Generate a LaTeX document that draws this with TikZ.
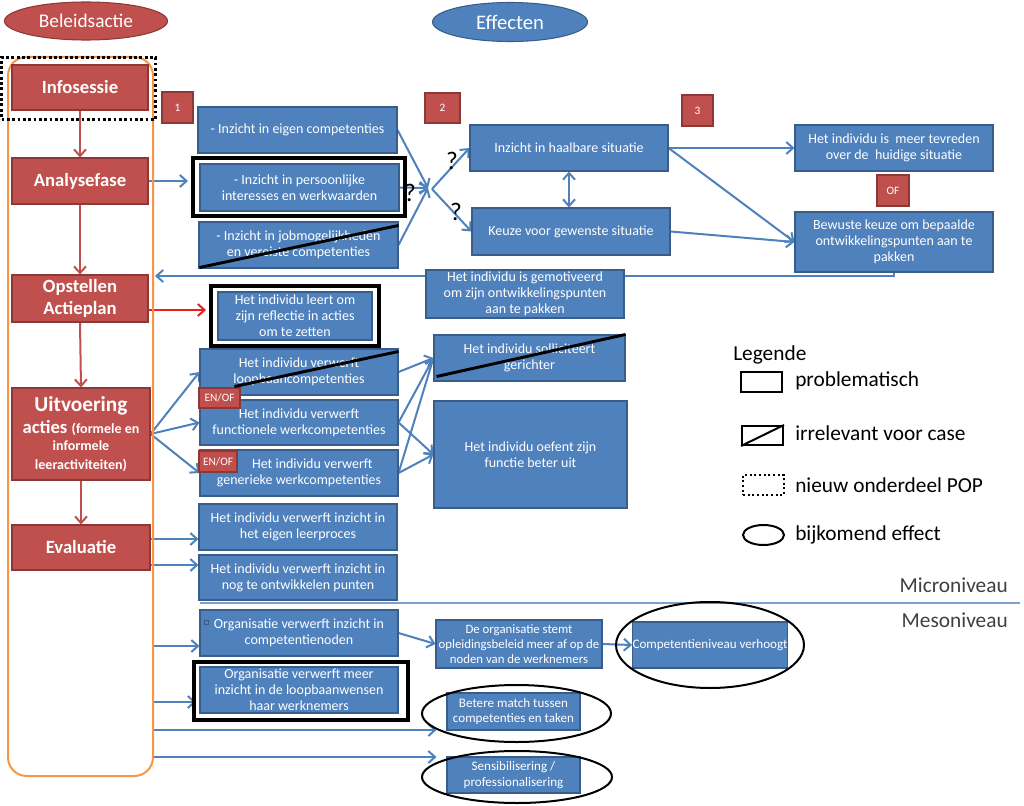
\documentclass[tikz,border=0pt]{standalone}
\usepackage{fontspec}
\setmainfont{Carlito}
\usetikzlibrary{arrows.meta,calc,shapes.geometric,backgrounds}
\definecolor{redF}{HTML}{C0504D}
\definecolor{reddark}{HTML}{8C3836}
\definecolor{blueF}{HTML}{4F81BD}
\definecolor{bluedark}{HTML}{385D8A}
\definecolor{arrowblue}{HTML}{4F81BD}
\definecolor{orangeC}{HTML}{F79646}
\definecolor{brightred}{HTML}{E8201E}
\definecolor{levelline}{HTML}{7F9FCF}
\begin{document}
\begin{tikzpicture}[x=0.75pt,y=-0.75pt,
  sz/.style 2 args={minimum width=#1*0.75pt, minimum height=#2*0.75pt},
  bbox/.style={draw=bluedark, fill=blueF, line width=0.8pt, text=white, font=\fontsize{10.5}{12}\selectfont, align=center, inner sep=0pt},
  rbox/.style={draw=reddark, fill=redF, line width=0.8pt, text=white, font=\bfseries\fontsize{14}{16.5}\selectfont, align=center, inner sep=0pt},
  tag/.style={draw=reddark, fill=redF, line width=0.8pt, text=white, font=\fontsize{8.5}{10}\selectfont, inner sep=0pt},
  frame/.style={draw=black, line width=3pt, inner sep=0pt},
  oval/.style={ellipse, draw=black, line width=1.5pt, inner sep=0pt},
  arr/.style={draw=arrowblue, line width=1.5pt, -{Straight Barb[length=5pt,width=9pt]}},
  rarr/.style={draw=redF, line width=1.5pt, -{Straight Barb[length=5pt,width=9pt]}},
  strike/.style={draw=black, line width=2.2pt},
  qm/.style={font=\fontsize{19}{20}\selectfont, text=black, inner sep=0pt},
  legtext/.style={font=\fontsize{16}{18}\selectfont, anchor=west, inner sep=0pt},
  levtext/.style={font=\fontsize{16}{18}\selectfont, text=black!75, anchor=east, inner sep=0pt}
]
\useasboundingbox (0,0) rectangle (1024,806);

% headers
\node[ellipse, fill=redF, draw=reddark, line width=0.8pt, sz={163}{38}, inner sep=0pt, text=white, font=\fontsize{14.5}{16}\selectfont] (bel) at (86,21) {Beleidsactie};
\node[ellipse, fill=blueF, draw=bluedark, line width=0.8pt, sz={155}{39}, inner sep=0pt, text=white, font=\fontsize{15.5}{17}\selectfont] (eff) at (510,22) {Effecten};

% policy column
\node[draw=orangeC, line width=1.5pt, rounded corners=14pt, sz={145}{719}, inner sep=0pt] (col) at (80.5,416.5) {};
\node[rbox, sz={136}{45}] (info) at (80,87.5) {Infosessie};
\node[draw=black, line width=2.6pt, dash pattern=on 2.2pt off 1.8pt, sz={154}{62}, inner sep=0pt] (newpop) at (78.5,88.5) {};
\node[rbox, sz={136}{46}] (ana) at (80,181) {Analysefase};
\node[rbox, sz={136}{47}] (opst) at (80,298.5) {Opstellen\\Actieplan};
\node[rbox, sz={138}{92}, font=\bfseries\fontsize{14}{15}\selectfont] (uitv) at (81,434) {\fontsize{16}{19}\selectfont Uitvoering\\[1pt]
  acties {\fontsize{10.5}{15}\selectfont(formele en}\\[-2pt]
  {\fontsize{10.5}{15}\selectfont informele}\\[-1pt]
  {\fontsize{10.5}{15}\selectfont leeractiviteiten)}};
\node[rbox, sz={138}{45}] (evalu) at (81,547.5) {Evaluatie};

% number tags
\node[tag, sz={31}{31}] (n1) at (177.5,107.5) {1};
\node[tag, sz={35}{30}] (n2) at (442.5,108) {2};
\node[tag, sz={31}{31}] (n3) at (697.5,110.5) {3};

% effect boxes
\node[bbox, sz={199}{46}] (b1) at (297.5,130) {- Inzicht in eigen competenties};
\node[bbox, sz={199}{47}] (b2) at (299.5,187.5) {- Inzicht in persoonlijke\\interesses en werkwaarden};
\node[frame, sz={212}{58}] (b2f) at (299,187) {};
\node[bbox, sz={199}{46}] (b3) at (298.5,245) {- Inzicht in jobmogelijkheden\\en vereiste competenties};
\node[bbox, sz={198}{46}] (hb) at (569,148) {Inzicht in haalbare situatie};
\node[bbox, sz={198}{47}] (kz) at (571,231.5) {Keuze voor gewenste situatie};
\node[bbox, sz={198}{46}] (tv) at (894,148) {Het individu is\ \ meer tevreden\\over de\ \ huidige situatie};
\node[bbox, sz={198}{60}] (bw) at (894,242) {Bewuste keuze om bepaalde\\ontwikkelingspunten aan te\\pakken};
\node[tag, sz={32}{31}] (of) at (893,190.5) {OF};
\node[bbox, sz={198}{48}] (gm) at (525,294) {Het individu is gemotiveerd\\om zijn ontwikkelingspunten\\aan te pakken};
\node[bbox, sz={154}{48}] (rf) at (295,316) {Het individu leert om\\zijn reflectie in acties\\om te zetten};
\node[frame, sz={168}{60}] (rff) at (295,316) {};
\node[bbox, sz={198}{46}] (lb) at (299,372) {Het individu verwerft\\loopbaancompetenties};
\node[bbox, sz={198}{45}] (fn) at (299,422.5) {Het individu verwerft\\functionele werkcompetenties};
\node[bbox, sz={198}{46}] (gn) at (299,473) {\hspace*{20pt}Het individu verwerft\\generieke werkcompetenties};
\node[tag, sz={41}{20}] (enof1) at (219.5,398) {EN/OF};
\node[tag, sz={38}{21}] (enof2) at (218,461.5) {EN/OF};
\node[bbox, sz={191}{46}] (so) at (529.5,358) {Het individu solliciteert\\gerichter};
\node[bbox, sz={193}{107}] (oe) at (530.5,454.5) {Het individu oefent zijn\\functie beter uit};
\node[bbox, sz={198}{46}] (lp) at (298,527) {Het individu verwerft inzicht in\\het eigen leerproces};
\node[bbox, sz={198}{45}] (op) at (298,577.5) {Het individu verwerft inzicht in\\nog te ontwikkelen punten};
\node[bbox, sz={198}{46}] (cn) at (299,633) {Organisatie verwerft inzicht in\\competentienoden};
\draw[bluedark, line width=0.6pt] (204,620) rectangle (208,624);
\node[bbox, sz={198}{46}] (lw) at (299,690) {Organisatie verwerft meer\\inzicht in de loopbaanwensen\\haar werknemers};
\node[frame, sz={214}{58}] (lwf) at (301,691) {};
\node[bbox, sz={166}{48}, font=\fontsize{9.6}{11.5}\selectfont] (ob) at (519,644) {De organisatie stemt\\opleidingsbeleid meer af op de\\noden van de werknemers};
\node[bbox, sz={154}{46}, font=\fontsize{9.8}{11.5}\selectfont] (cv) at (710,645) {Competentieniveau verhoogt};
\node[oval, sz={188}{86}] (cve) at (710,645) {};
\node[bbox, sz={133}{37}, font=\fontsize{9.8}{11.5}\selectfont] (bm) at (513.5,711.5) {Betere match tussen\\competenties en taken};
\node[oval, sz={189}{57}] (bme) at (516.5,713.5) {};
\node[bbox, sz={133}{36}, font=\fontsize{9.8}{11.5}\selectfont] (sp) at (513.5,775) {Sensibilisering /\\professionalisering};
\node[oval, sz={190}{52}] (spe) at (517,777) {};

% strike-through lines
\draw[strike] ($(b3.south west)+(1,-1)$) -- ($(b3.north east)+(0,4)$);
\draw[strike] ($(lb.south west)+(35,-9)$) -- ($(lb.north east)+(0,3)$);
\draw[strike] ($(so.south west)+(3,-5)$) -- ($(so.north east)+(0,0)$);

% question marks
\node[qm] (q1) at (452,161) {?};
\node[qm] (q2) at (456,212) {?};
\node[qm] (q3) at (410,193) {?};

% level separation
\coordinate (lvA) at (200,603);
\coordinate (lvB) at (1020,603);
\node[levtext] (micro) at (1008,585) {Microniveau};
\node[levtext] (meso) at (1008,620) {Mesoniveau};

% legend
\node[legtext] (leg) at (733,355) {Legende};
\node[draw=black, line width=1.5pt, sz={41}{20}, inner sep=0pt] (lg1) at (761.5,382) {};
\node[legtext] (lt1) at (795,381) {problematisch};
\node[draw=black, line width=1.5pt, sz={41}{19}, inner sep=0pt] (lg2) at (762.5,435.5) {};
\draw[black, line width=1.5pt] (lg2.south west) -- (lg2.north east);
\node[legtext] (lt2) at (795,433) {irrelevant voor case};
\node[draw=black, line width=1.5pt, dotted, sz={41}{20}, inner sep=0pt] (lg3) at (763.5,485) {};
\node[legtext] (lt3) at (795,485) {nieuw onderdeel POP};
\node[ellipse, draw=black, line width=1.5pt, sz={41}{20}, inner sep=0pt] (lg4) at (763.5,535) {};
\node[legtext] (lt4) at (795,535) {bijkomend effect};

% connectors
\coordinate (conv) at (428,188);
\coordinate (divg) at (432,189);
\coordinate (back) at (155,276);
\begin{scope}[on background layer]
\fill[white] (0,0) rectangle (1024,806);
\draw[levelline, line width=1.2pt] (lvA) -- (lvB);
\draw[rarr] (info.south) -- (ana.north);
\draw[rarr] (ana.south) -- (opst.north);
\draw[rarr] (opst.south) -- (uitv.north);
\draw[rarr] (uitv.south) -- (evalu.north);
\draw[arr] (ana.east) -- ($(b2f.west)+(-3,-6)$);
\draw[arr] (b1.east) -- (conv);
\draw[arr] (b2.east) -- (conv);
\draw[arr] (b3.east) -- (conv);
\draw[arr] (divg) -- (hb.west);
\draw[arr] (divg) -- (kz.west);
\draw[draw=arrowblue, line width=1.5pt, {Straight Barb[length=5pt,width=9pt]}-{Straight Barb[length=5pt,width=9pt]}] (hb.south) -- (hb.south |- kz.north);
\draw[arr] (hb.east) -- (tv.west);
\draw[arr] (hb.east) -- (bw.west);
\draw[arr] (kz.east) -- (bw.west);
\draw[arr] (bw.south) |- (back);
\draw[draw=brightred, line width=1.5pt, -{Straight Barb[length=5pt,width=9pt]}] (opst.east |- 0,310) -- ($(rff.west |- 0,310)+(-3,0)$);
\draw[arr] (uitv.east) -- (lb.west);
\draw[arr] (uitv.east) -- (fn.west);
\draw[arr] (uitv.east) -- (gn.west);
\draw[arr] (lb.east) -- (so.west);
\draw[arr] (fn.east) -- (so.west);
\draw[arr] (gn.east) -- (so.west);
\draw[arr] (fn.east) -- (oe.west);
\draw[arr] (gn.east) -- (oe.west);
\draw[arr] (evalu.east |- 0,539) -- (lp.west |- 0,539);
\draw[arr] (evalu.east |- 0,565) -- (op.west |- 0,565);
\draw[arr] (col.east |- 0,646) -- (cn.west |- 0,646);
\draw[arr] (col.east |- 0,702) -- ($(lwf.west |- 0,702)+(4,0)$);
\draw[arr] (col.east |- 0,730) -- ($(bm.west |- 0,730)+(-10,0)$);
\draw[arr] (col.east |- 0,757) -- ($(sp.west |- 0,757)+(-10,0)$);
\draw[arr] (cn.east) -- (ob.west);
\draw[arr] (ob.east) -- (cv.west);
\end{scope}
\end{tikzpicture}
\end{document}
